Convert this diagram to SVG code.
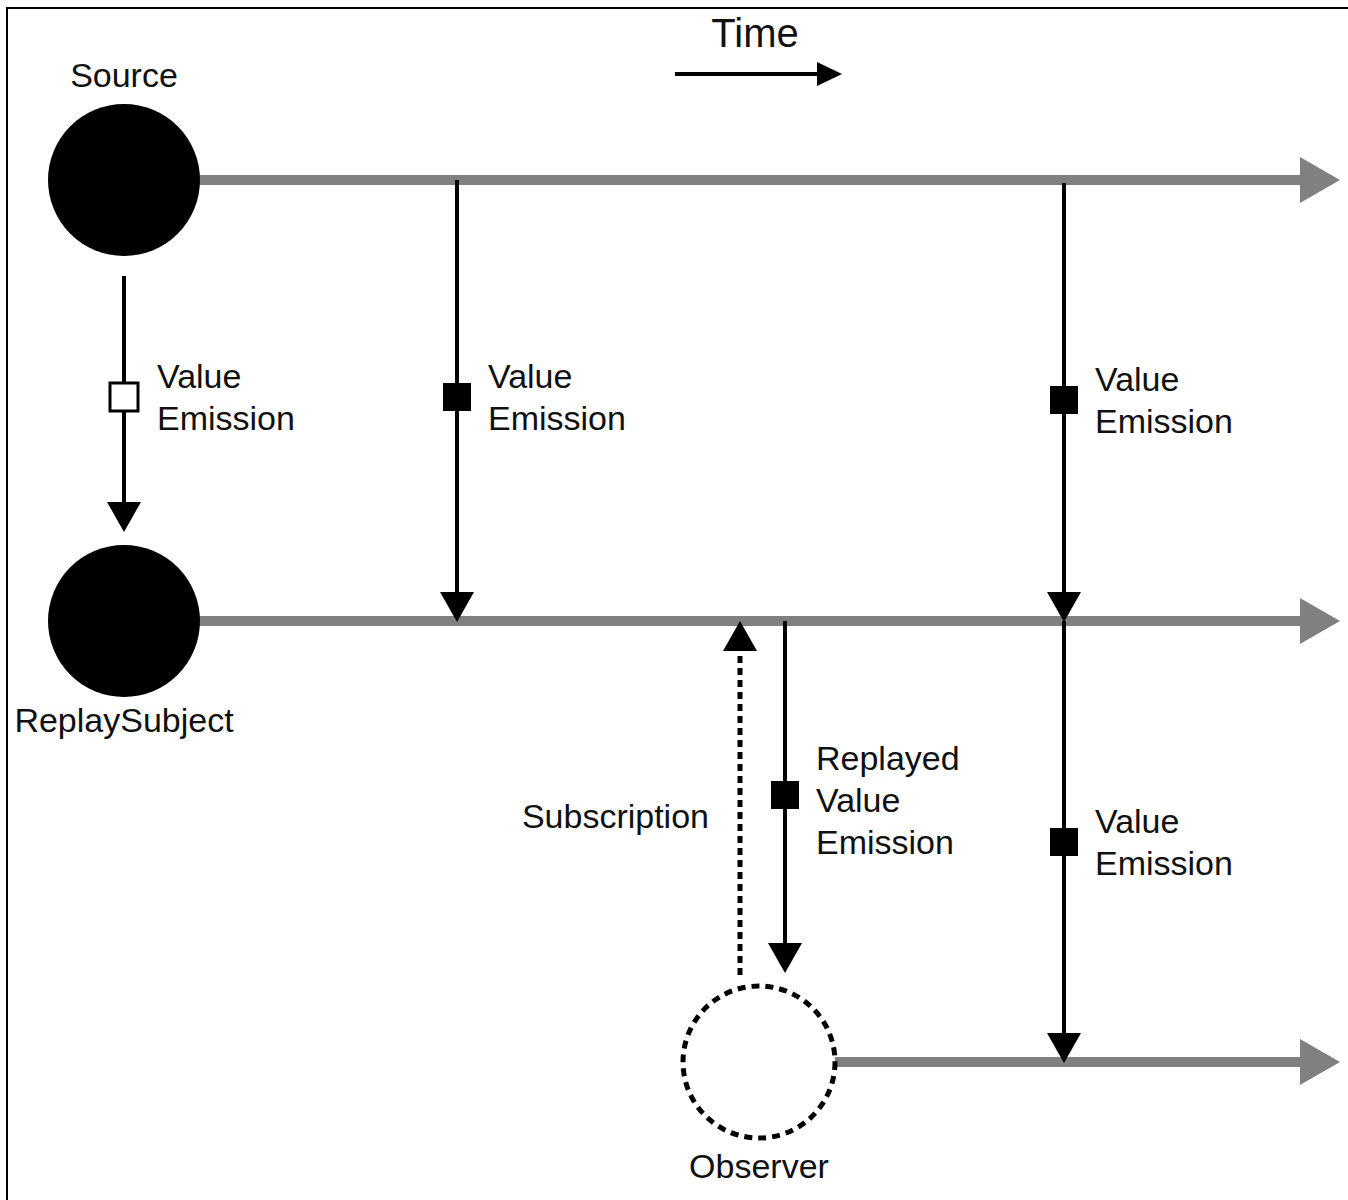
<svg xmlns="http://www.w3.org/2000/svg" width="1348" height="1200" viewBox="0 0 1348 1200">
<style>
text{font-family:"Liberation Sans",Arial,sans-serif;font-size:34px;fill:#111}
.tl{stroke:#808080;stroke-width:10;fill:none}
.th{fill:#808080}
.v{stroke:#000;stroke-width:4;fill:none}
.ah{fill:#000}
.sq{fill:#000}
</style>
<rect x="0" y="0" width="1348" height="1200" fill="#fff"/>
<path d="M7 1200 V8 H1348" fill="none" stroke="#000" stroke-width="2"/>
<g id="time">
<text x="755" y="47" text-anchor="middle" style="font-size:40px">Time</text>
<line x1="675" y1="74" x2="820" y2="74" stroke="#000" stroke-width="4"/>
<polygon points="817,62 842,74 817,86" class="ah"/>
</g>
<g id="connectors">
<g id="timeline-source">
<line x1="195" y1="180" x2="1302" y2="180" class="tl"/>
<polygon points="1300,157 1340,180 1300,203" class="th"/>
</g>
<g id="timeline-subject">
<line x1="195" y1="621" x2="1302" y2="621" class="tl"/>
<polygon points="1300,598 1340,621 1300,644" class="th"/>
</g>
<g id="timeline-observer">
<line x1="834" y1="1062" x2="1302" y2="1062" class="tl"/>
<polygon points="1300,1039 1340,1062 1300,1085" class="th"/>
</g>
<g id="e1">
<line x1="124" y1="276" x2="124" y2="505" class="v"/>
<polygon points="107,502 141,502 124,532" class="ah"/>
<rect x="110" y="383" width="28" height="28" fill="#fff" stroke="#000" stroke-width="3"/>
<text x="157" y="388">Value</text>
<text x="157" y="430">Emission</text>
</g>
<g id="e2">
<line x1="457" y1="180" x2="457" y2="595" class="v"/>
<polygon points="440,592 474,592 457,622" class="ah"/>
<rect x="443" y="383" width="28" height="28" class="sq"/>
<text x="488" y="388">Value</text>
<text x="488" y="430">Emission</text>
</g>
<g id="e3">
<line x1="1064" y1="183" x2="1064" y2="595" class="v"/>
<polygon points="1047,592 1081,592 1064,622" class="ah"/>
<rect x="1050" y="386" width="28" height="28" class="sq"/>
<text x="1095" y="391">Value</text>
<text x="1095" y="433">Emission</text>
</g>
<g id="e4">
<line x1="1064" y1="621" x2="1064" y2="1036" class="v"/>
<polygon points="1047,1033 1081,1033 1064,1063" class="ah"/>
<rect x="1050" y="828" width="28" height="28" class="sq"/>
<text x="1095" y="833">Value</text>
<text x="1095" y="875">Emission</text>
</g>
<g id="e5">
<line x1="785" y1="621" x2="785" y2="946" class="v"/>
<polygon points="768,943 802,943 785,973" class="ah"/>
<rect x="771" y="781" width="28" height="28" class="sq"/>
<text x="816" y="770">Replayed</text>
<text x="816" y="812">Value</text>
<text x="816" y="854">Emission</text>
</g>
<g id="subscription">
<line x1="740" y1="975" x2="740" y2="652" stroke="#000" stroke-width="5" stroke-dasharray="7,5"/>
<polygon points="723,651 757,651 740,621" class="ah"/>
<text x="709" y="828" text-anchor="end">Subscription</text>
</g>
</g>
<g id="source">
<circle cx="124" cy="180" r="76" fill="#000"/>
<text x="124" y="87" text-anchor="middle">Source</text>
</g>
<g id="replaysubject">
<circle cx="124" cy="621" r="76" fill="#000"/>
<text x="124" y="732" text-anchor="middle">ReplaySubject</text>
</g>
<g id="observer">
<circle cx="759" cy="1062" r="76" fill="#fff" stroke="#000" stroke-width="5" stroke-dasharray="8,6"/>
<text x="759" y="1178" text-anchor="middle">Observer</text>
</g>
</svg>
